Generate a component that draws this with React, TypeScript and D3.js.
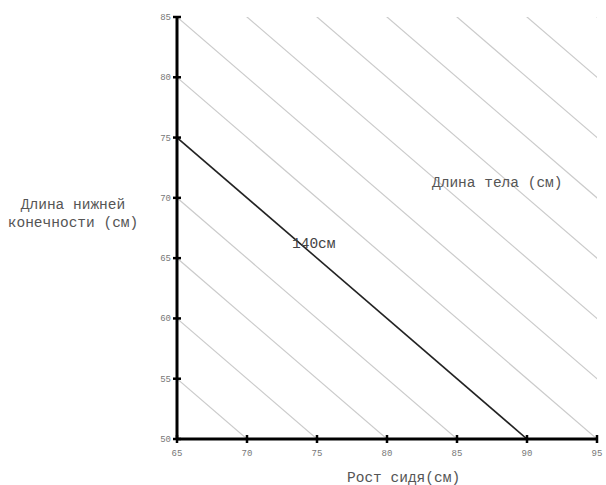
import React, { useEffect, useRef } from 'react';
import * as d3 from 'd3';

const xTicks = [65, 70, 75, 80, 85, 90, 95];
const yTicks = [50, 55, 60, 65, 70, 75, 80, 85];
const bodyLengths = [115, 120, 125, 130, 135, 140, 145, 150, 155, 160, 165, 170, 175, 180];
const highlight = 140;

export default function App() {
  const svgRef = useRef<SVGSVGElement | null>(null);

  useEffect(() => {
    const width = 606;
    const height = 485;
    const svg = d3.select(svgRef.current).attr('width', width).attr('height', height);
    svg.selectAll('*').remove();

    const x = d3.scaleLinear().domain([65, 95]).range([177, 597]);
    const y = d3.scaleLinear().domain([50, 85]).range([439, 17]);
    const mono = '"Liberation Mono", "DejaVu Sans Mono", monospace';

    svg.append('defs').append('clipPath').attr('id', 'plot')
      .append('rect')
      .attr('x', x(65)).attr('y', y(85))
      .attr('width', x(95) - x(65)).attr('height', y(50) - y(85));

    const line = d3.line<[number, number]>().x(d => x(d[0])).y(d => y(d[1]));

    // lines of constant body length: sitting height + leg length
    svg.append('g').attr('clip-path', 'url(#plot)')
      .selectAll('path')
      .data(bodyLengths.filter(s => s !== highlight))
      .enter()
      .append('path')
      .attr('d', s => line([[s - 90, 90], [s - 45, 45]]))
      .attr('stroke', '#cbcbcb')
      .attr('stroke-width', 1.2)
      .attr('fill', 'none');

    svg.append('path')
      .attr('clip-path', 'url(#plot)')
      .attr('d', line([[highlight - 75, 75], [highlight - 50, 50]]))
      .attr('stroke', '#222')
      .attr('stroke-width', 1.6)
      .attr('fill', 'none');

    // axes
    svg.append('line')
      .attr('x1', x(65)).attr('x2', x(95)).attr('y1', y(50)).attr('y2', y(50))
      .attr('stroke', '#000').attr('stroke-width', 3);
    svg.append('line')
      .attr('x1', x(65)).attr('x2', x(65)).attr('y1', y(50)).attr('y2', y(85))
      .attr('stroke', '#000').attr('stroke-width', 3);

    svg.selectAll('.xt').data(xTicks).enter().append('line')
      .attr('x1', d => x(d)).attr('x2', d => x(d))
      .attr('y1', y(50) - 4).attr('y2', y(50) + 4)
      .attr('stroke', '#000').attr('stroke-width', 2.5);
    svg.selectAll('.yt').data(yTicks).enter().append('line')
      .attr('x1', x(65) - 4).attr('x2', x(65) + 4)
      .attr('y1', d => y(d)).attr('y2', d => y(d))
      .attr('stroke', '#000').attr('stroke-width', 2.5);

    svg.selectAll('.xl').data(xTicks).enter().append('text')
      .attr('x', d => x(d)).attr('y', y(50) + 17)
      .attr('text-anchor', 'middle')
      .style('font-family', mono).style('font-size', '9px').attr('fill', '#777')
      .text(d => d);
    svg.selectAll('.yl').data(yTicks).enter().append('text')
      .attr('x', x(65) - 6).attr('y', d => y(d) + 3)
      .attr('text-anchor', 'end')
      .style('font-family', mono).style('font-size', '9px').attr('fill', '#777')
      .text(d => d);

    const label = (tx: number, ty: number, t: string, anchor = 'start', color = '#555') =>
      svg.append('text')
        .attr('x', tx).attr('y', ty)
        .attr('text-anchor', anchor)
        .style('font-family', mono).style('font-size', '14.5px').attr('fill', color)
        .text(t);

    label(73, 209, 'Длина нижней', 'middle');
    label(73, 227, 'конечности (см)', 'middle');
    label(432, 187, 'Длина тела (см)');
    label(347, 482, 'Рост сидя(см)');
    label(292, 248, '140см', 'start', '#444');
  }, []);

  return <svg ref={svgRef} style={{ position: 'absolute', left: 0, top: 0 }} />;
}
